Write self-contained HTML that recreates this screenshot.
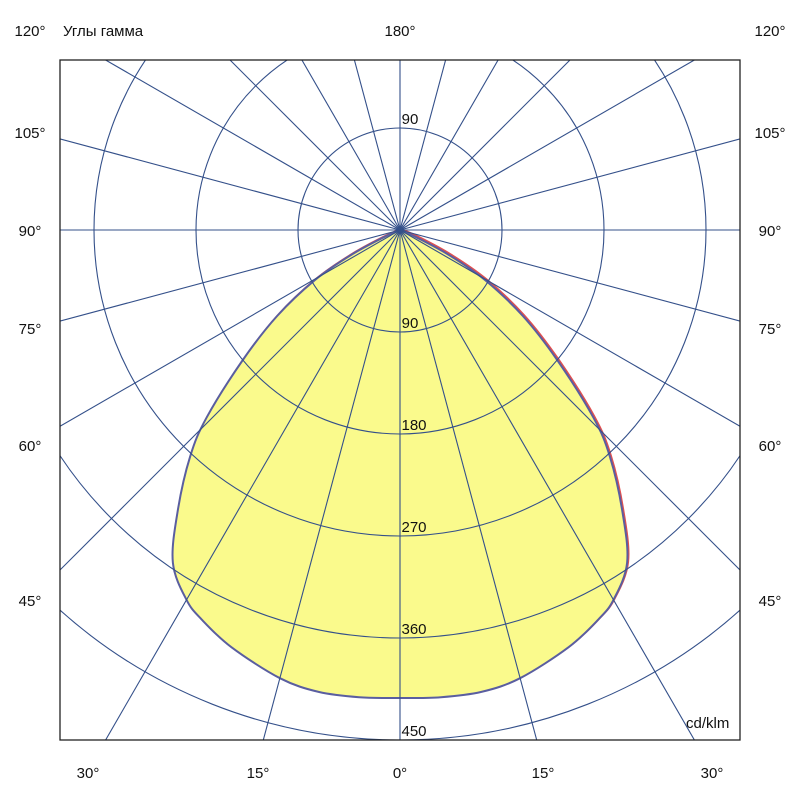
<!DOCTYPE html>
<html><head><meta charset="utf-8"><style>
html,body{margin:0;background:#fff;width:800px;height:800px;overflow:hidden}
svg{display:block}
svg text{font-family:"Liberation Sans",sans-serif;font-size:15px;fill:#111}
</style></head><body>
<svg id="s" width="800" height="800" xmlns="http://www.w3.org/2000/svg" style="overflow:hidden">
<defs><clipPath id="c"><rect x="60" y="60" width="680" height="680"/></clipPath></defs>
<g clip-path="url(#c)">
<path id="curve2" fill="none" stroke="#e05050" stroke-width="2" transform="translate(1,-1)"/>
<path id="curve" fill="#fafa8c" stroke="#5a5ea0" stroke-width="2"/>
<g id="grid" fill="none" stroke="#34508a" stroke-width="1.1"></g>
</g>
<rect x="60" y="60" width="680" height="680" fill="none" stroke="#222" stroke-width="1.3"/>
<g text-anchor="middle">
<text x="30" y="36">120°</text><text x="770" y="36">120°</text>
<text x="30" y="138">105°</text><text x="770" y="138">105°</text>
<text x="30" y="236">90°</text><text x="770" y="236">90°</text>
<text x="30" y="334">75°</text><text x="770" y="334">75°</text>
<text x="30" y="451">60°</text><text x="770" y="451">60°</text>
<text x="30" y="606">45°</text><text x="770" y="606">45°</text>
<text x="88" y="778">30°</text><text x="258" y="778">15°</text><text x="400" y="778">0°</text><text x="543" y="778">15°</text><text x="712" y="778">30°</text>
<text x="400" y="36">180°</text>
<text x="410" y="124">90</text><text x="410" y="328">90</text><text x="414" y="430">180</text><text x="414" y="532">270</text><text x="414" y="634">360</text><text x="414" y="736">450</text>
</g>
<text x="63" y="36">Углы гамма</text>
<text x="686" y="728">cd/klm</text>
</svg>
<script>
var g=document.getElementById('grid'),cx=400,cy=230,h='';
for(var r=102;r<=510;r+=102)h+='<circle cx="'+cx+'" cy="'+cy+'" r="'+r+'"/>';
for(var a=0;a<360;a+=15){var t=a*Math.PI/180,dx=Math.sin(t),dy=Math.cos(t),L=1e9;
 if(dx>1e-9)L=Math.min(L,340/dx); if(dx<-1e-9)L=Math.min(L,-340/dx);
 if(dy>1e-9)L=Math.min(L,510/dy); if(dy<-1e-9)L=Math.min(L,-170/dy);
 h+='<line x1="400" y1="230" x2="'+(cx+L*dx).toFixed(1)+'" y2="'+(cy+L*dy).toFixed(1)+'"/>';}
g.innerHTML=h;
var pts=[[0,468],[5,469],[10,469],[15,464],[22,450],[27,437],[30,427],[34.3,403],[38.2,360],[42.8,309],[45.9,269],[50.4,204],[55,150],[59.5,99],[63,55],[66,18],[68,0]];
var R=[];
pts.forEach(function(p){var t=p[0]*Math.PI/180;R.push([cx+p[1]*Math.sin(t),cy+p[1]*Math.cos(t)]);});
var P=[];
for(var i=R.length-1;i>=0;i--)P.push(R[i]);
for(var i=1;i<R.length;i++)P.push([800-R[i][0],R[i][1]]);
var d='M'+P[0][0].toFixed(1)+','+P[0][1].toFixed(1);
for(var i=0;i<P.length-1;i++){
 var p0=P[Math.max(i-1,0)],p1=P[i],p2=P[i+1],p3=P[Math.min(i+2,P.length-1)];
 var c1=[p1[0]+(p2[0]-p0[0])/6,p1[1]+(p2[1]-p0[1])/6],c2=[p2[0]-(p3[0]-p1[0])/6,p2[1]-(p3[1]-p1[1])/6];
 d+=' C'+c1[0].toFixed(1)+','+c1[1].toFixed(1)+' '+c2[0].toFixed(1)+','+c2[1].toFixed(1)+' '+p2[0].toFixed(1)+','+p2[1].toFixed(1);
}
d+='Z';
document.getElementById('curve').setAttribute('d',d);
document.getElementById('curve2').setAttribute('d',d);
</script>
</body></html>
